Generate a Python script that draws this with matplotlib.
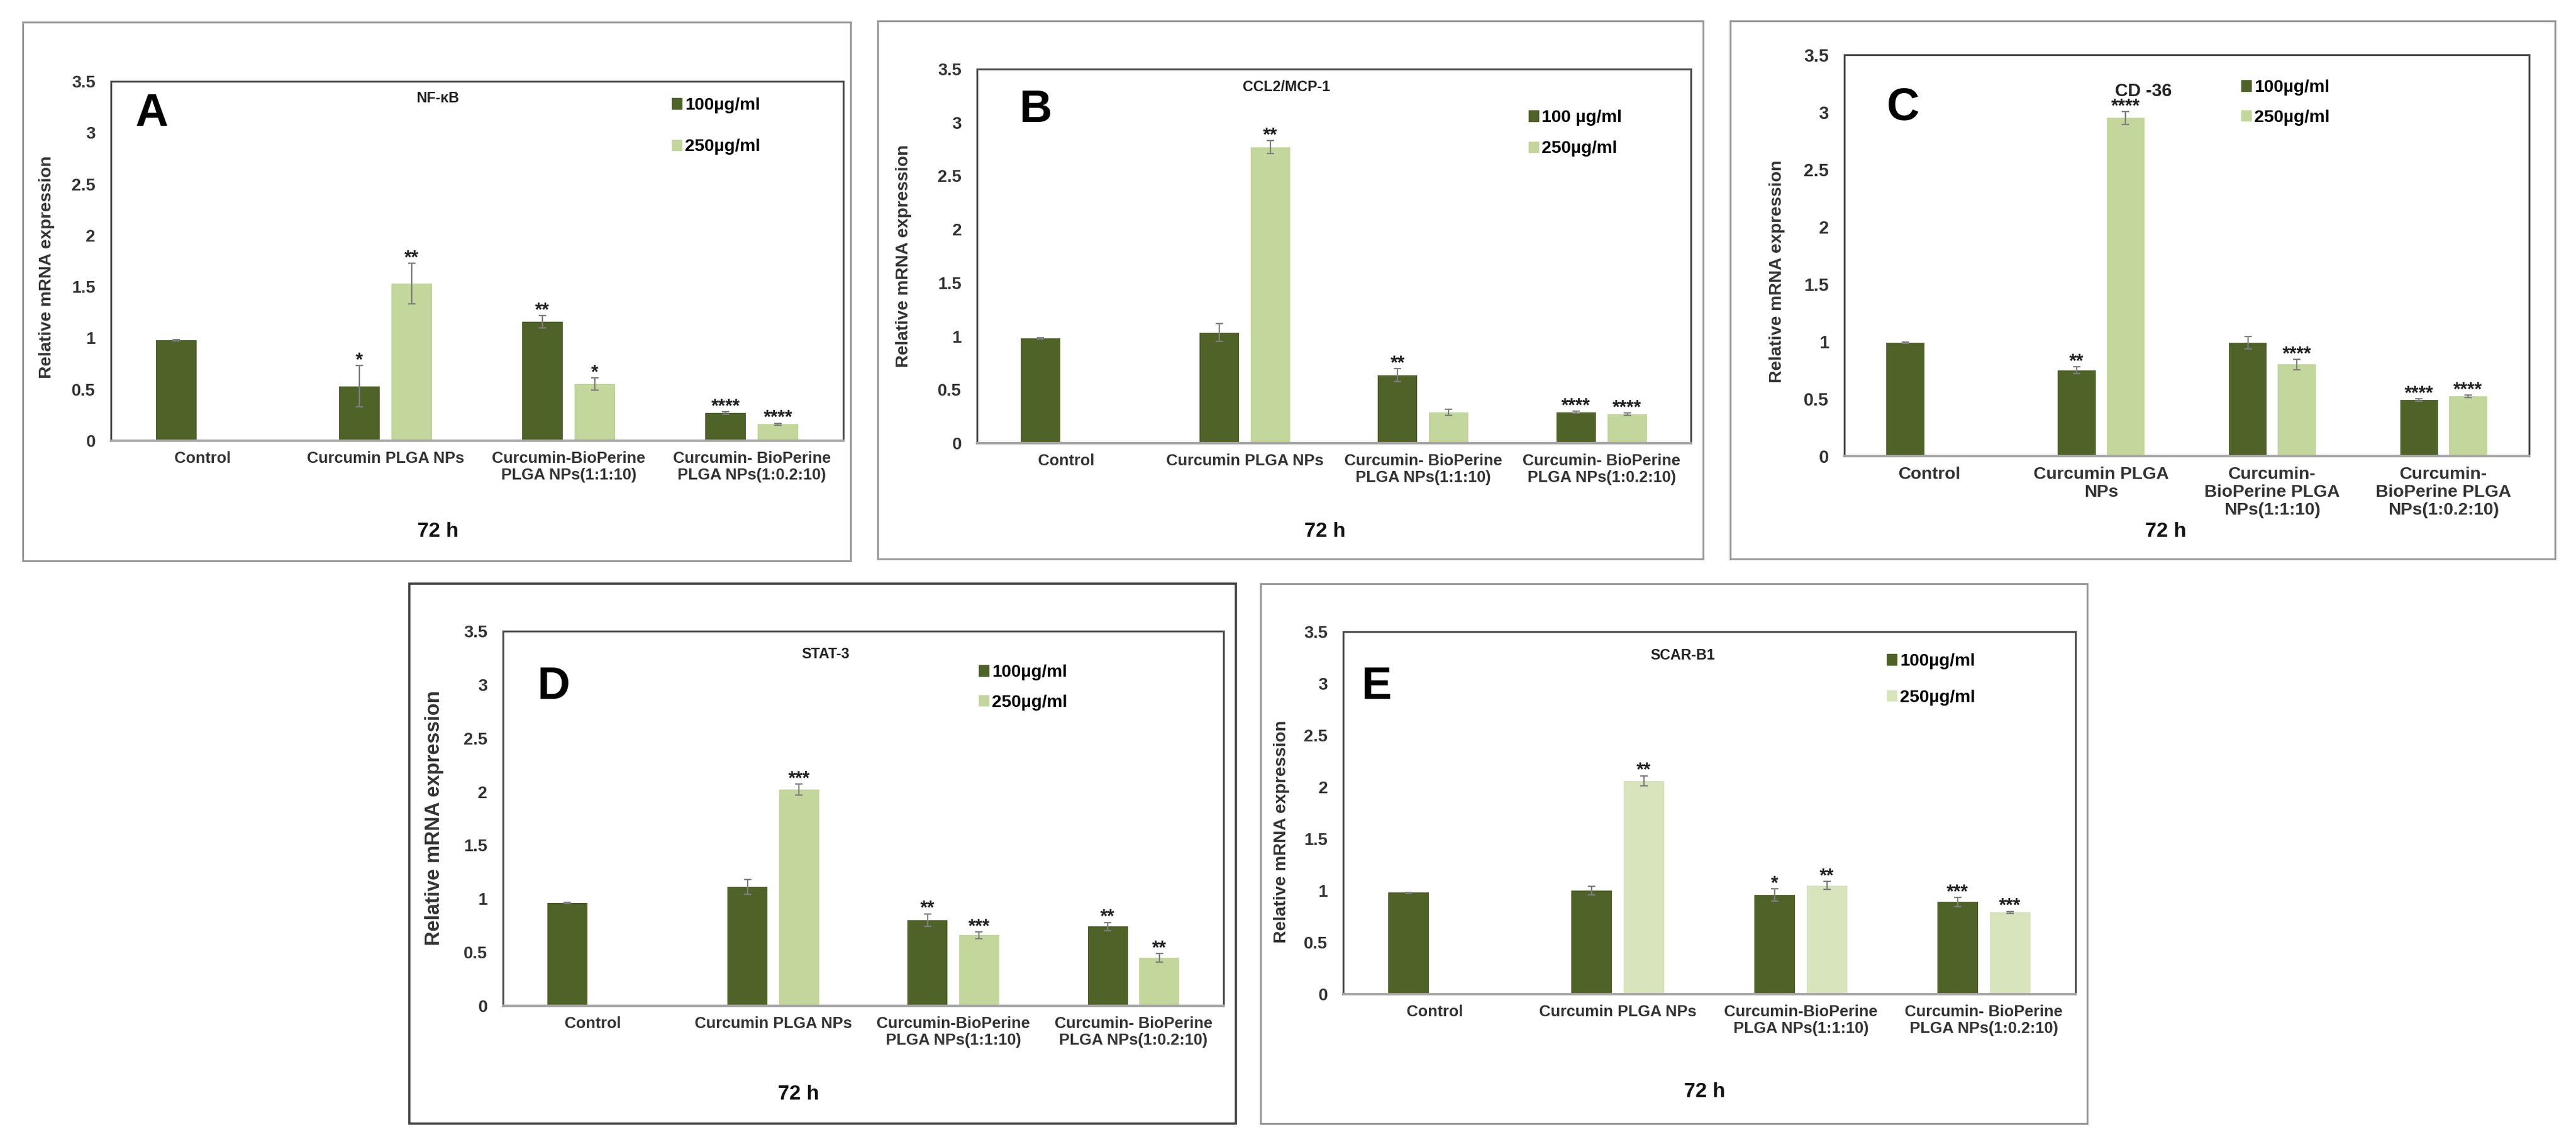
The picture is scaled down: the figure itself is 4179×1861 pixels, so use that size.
import numpy as np
import matplotlib
matplotlib.use('Agg')
import matplotlib.pyplot as plt
from matplotlib.patches import Rectangle, Patch

plt.rcParams['font.family'] = ['Liberation Sans', 'DejaVu Sans']
plt.rcParams['font.weight'] = 'bold'

W, H = 4179, 1861
DARK = '#4F6228'
LIGHT = '#C3D69B'
LIGHT_E = '#D7E4BC'

labels_std = ['Control', 'Curcumin PLGA NPs', 'Curcumin-BioPerine\nPLGA NPs(1:1:10)',
              'Curcumin- BioPerine\nPLGA NPs(1:0.2:10)']
labels_b = ['Control', 'Curcumin PLGA NPs', 'Curcumin- BioPerine\nPLGA NPs(1:1:10)',
            'Curcumin- BioPerine\nPLGA NPs(1:0.2:10)']
labels_c = ['Control', 'Curcumin PLGA\nNPs', 'Curcumin-\nBioPerine PLGA\nNPs(1:1:10)',
            'Curcumin-\nBioPerine PLGA\nNPs(1:0.2:10)']

# A  NF-kB
a_low = [0.98, 0.53, 1.16, 0.27]
a_low_err = [0.005, 0.20, 0.06, 0.01]
a_high = [np.nan, 1.53, 0.55, 0.16]
a_high_err = [np.nan, 0.20, 0.06, 0.01]
a_low_sig = ['', '*', '**', '****']
a_high_sig = ['', '**', '*', '****']

# B  CCL2/MCP-1
b_low = [0.98, 1.035, 0.635, 0.29]
b_low_err = [0.005, 0.085, 0.06, 0.01]
b_high = [np.nan, 2.77, 0.29, 0.27]
b_high_err = [np.nan, 0.06, 0.03, 0.01]
b_low_sig = ['', '', '**', '****']
b_high_sig = ['', '**', '', '****']

# C  CD-36
c_low = [0.99, 0.75, 0.99, 0.49]
c_low_err = [0.005, 0.03, 0.055, 0.01]
c_high = [np.nan, 2.95, 0.80, 0.52]
c_high_err = [np.nan, 0.055, 0.045, 0.01]
c_low_sig = ['', '**', '', '****']
c_high_sig = ['', '****', '****', '****']

# D  STAT-3
d_low = [0.96, 1.11, 0.80, 0.74]
d_low_err = [0.005, 0.07, 0.06, 0.04]
d_high = [np.nan, 2.02, 0.66, 0.45]
d_high_err = [np.nan, 0.05, 0.03, 0.04]
d_low_sig = ['', '', '**', '**']
d_high_sig = ['', '***', '***', '**']

# E  SCAR-B1
e_low = [0.98, 1.00, 0.957, 0.89]
e_low_err = [0.005, 0.04, 0.06, 0.045]
e_high = [np.nan, 2.06, 1.05, 0.79]
e_high_err = [np.nan, 0.05, 0.04, 0.01]
e_low_sig = ['', '', '*', '***']
e_high_sig = ['', '**', '**', '***']

yticks = [0, 0.5, 1, 1.5, 2, 2.5, 3, 3.5]
ytick_labels = ['0', '0.5', '1', '1.5', '2', '2.5', '3', '3.5']

fig = plt.figure(figsize=(W / 100, H / 100), dpi=100)


def fx(x):
    return x / W


def fy(y):
    return 1 - y / H


def panel(box, axbox, low, low_err, high, high_err, low_sig, high_sig, cats, gene, gene_xy, gene_fs,
          letter, letter_xy, leg_labels, leg_xy, leg_space, light, h72_xy, ylab_xy, ylab_fs,
          lab_fs=18.5, tick_fs=20, box_color='#999999', box_lw=2.2):
    fig.patches.append(Rectangle((fx(box[0]), fy(box[3])), fx(box[2] - box[0]), (box[3] - box[1]) / H,
                                 transform=fig.transFigure, fill=False, ec=box_color, lw=box_lw))
    ax = fig.add_axes([fx(axbox[0]), fy(axbox[3]), fx(axbox[2] - axbox[0]), (axbox[3] - axbox[1]) / H])
    x = np.arange(len(cats))
    bw = 0.222
    off = 0.143
    ekw = dict(ecolor='#7f7f7f', elinewidth=1.6, capsize=4, capthick=1.6)
    ax.bar(x - off, low, width=bw, color=DARK, yerr=low_err, error_kw=ekw, zorder=2)
    ax.bar(x + off, high, width=bw, color=light, yerr=high_err, error_kw=ekw, zorder=2)
    for i in range(len(cats)):
        if low_sig[i]:
            ax.text(x[i] - off, low[i] + low_err[i], low_sig[i], ha='center', va='baseline',
                    fontsize=22, fontweight='bold', color='#222222')
        if high_sig[i]:
            ax.text(x[i] + off, high[i] + high_err[i], high_sig[i], ha='center', va='baseline',
                    fontsize=22, fontweight='bold', color='#222222')
    ax.set_xlim(-0.5, len(cats) - 0.5)
    ax.set_ylim(0, 3.5)
    ax.set_yticks(yticks)
    ax.set_yticklabels(ytick_labels, fontsize=tick_fs, fontweight='bold', color='#333333')
    ax.set_xticks(x)
    ax.set_xticklabels(cats, fontsize=lab_fs, fontweight='bold', color='#333333', linespacing=1.15)
    ax.tick_params(axis='both', length=0)
    ax.tick_params(axis='y', pad=18)
    ax.tick_params(axis='x', pad=12)
    for s in ['top', 'right', 'left']:
        ax.spines[s].set_color('#4d4d4d')
        ax.spines[s].set_linewidth(2.2)
    ax.spines['bottom'].set_color('#a6a6a6')
    ax.spines['bottom'].set_linewidth(2.8)

    handles = [Patch(color=DARK), Patch(color=light)]
    ax.legend(handles, leg_labels, loc='upper left', bbox_to_anchor=(fx(leg_xy[0]), fy(leg_xy[1])),
              bbox_transform=fig.transFigure, frameon=False, handlelength=0.55,
              handleheight=0.55, handletextpad=0.2, borderpad=0, borderaxespad=0,
              labelspacing=leg_space, prop=dict(weight='bold', size=20.5))

    fig.text(fx(gene_xy[0]), fy(gene_xy[1]), gene, ha='center', va='center', fontsize=gene_fs,
             fontweight='bold', color='#222222')
    fig.text(fx(letter_xy[0]), fy(letter_xy[1]), letter, ha='center', va='center', fontsize=53,
             fontweight='bold', color='black')
    fig.text(fx(h72_xy[0]), fy(h72_xy[1]), '72 h', ha='center', va='center', fontsize=24,
             fontweight='bold', color='#111111')
    fig.text(fx(ylab_xy[0]), fy(ylab_xy[1]), 'Relative mRNA expression', ha='center', va='center',
             rotation=90, fontsize=ylab_fs, fontweight='bold', color='#333333')
    return ax


leg_std = ['100µg/ml', '250µg/ml']
leg_b = ['100 µg/ml', '250µg/ml']

panel((37, 36, 1380, 910), (180, 132, 1368, 715), a_low, a_low_err, a_high, a_high_err, a_low_sig,
      a_high_sig, labels_std, 'NF-κB', (710, 159), 17, 'A', (246, 184), leg_std, (1090, 158), 1.45,
      LIGHT, (710, 863), (76, 433), 20.5)

panel((1424, 34, 2763, 907), (1585, 112, 2743, 719), b_low, b_low_err, b_high, b_high_err, b_low_sig,
      b_high_sig, labels_b, 'CCL2/MCP-1', (2087, 142), 17, 'B', (1680, 178), leg_b, (2480, 178), 0.85,
      LIGHT, (2149, 863), (1466, 415), 20.5)

panel((2807, 34, 4145, 907), (2992, 89, 4103, 740), c_low, c_low_err, c_high, c_high_err, c_low_sig,
      c_high_sig, labels_c, 'CD -36', (3477, 148), 21, 'C', (3088, 175), leg_std, (3636, 129), 0.8,
      LIGHT, (3513, 863), (2883, 440), 20.5, lab_fs=20.5, tick_fs=21)

panel((664, 947, 2005, 1823), (816, 1024, 1985, 1632), d_low, d_low_err, d_high, d_high_err, d_low_sig,
      d_high_sig, labels_std, 'STAT-3', (1339, 1062), 17, 'D', (898, 1115), leg_std, (1588, 1078), 0.8,
      LIGHT, (1295, 1775), (705, 1327), 23.5, box_color='#444444', box_lw=2.6)

panel((2045, 947, 3386, 1823), (2179, 1025, 3367, 1613), e_low, e_low_err, e_high, e_high_err, e_low_sig,
      e_high_sig, labels_std, 'SCAR-B1', (2730, 1064), 17, 'E', (2233, 1115), leg_std, (3061, 1060), 1.15,
      LIGHT_E, (2765, 1772), (2079, 1349), 20.5)

fig.savefig('out.png', dpi=100, facecolor='white')
